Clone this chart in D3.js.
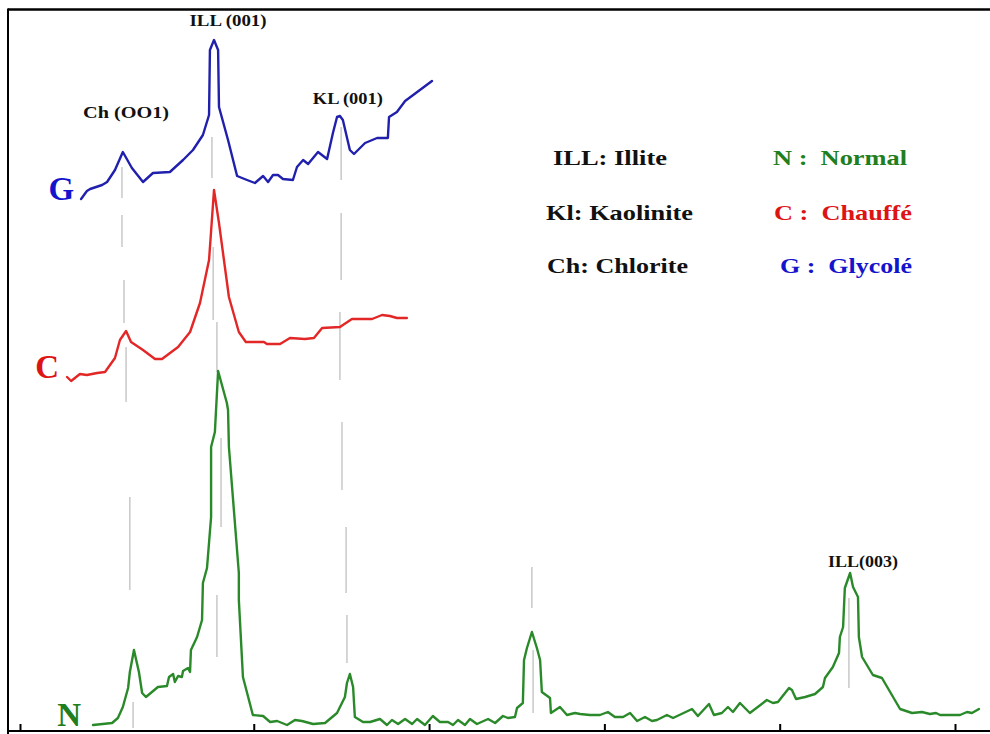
<!DOCTYPE html>
<html>
<head>
<meta charset="utf-8">
<script src="https://cdn.jsdelivr.net/npm/d3@7/dist/d3.min.js"></script>
<style>
  html, body { margin: 0; padding: 0; background: #fff; }
  svg { display: block; }
  text { font-family: "Liberation Serif", "Times New Roman", serif; font-weight: bold; }
</style>
</head>
<body>
<svg id="chart" width="990" height="734"></svg>
<script>
// ---------- DATA (2θ in degrees, intensity in arbitrary stacked units) ----------
const axisTicks = [2, 10, 16, 22, 28, 34];

// N : Normal
const normalTheta = [4.50,5.15,5.35,5.52,5.70,5.76,5.90,6.07,6.18,6.31,6.72,7.03,7.10,7.24,7.30,7.41,7.54,7.58,7.75,7.82,7.85,8.06,8.23,8.26,8.40,8.54,8.54,8.67,8.78,9.08,9.12,9.15,9.49,9.49,9.63,9.97,10.32,10.56,10.80,11.14,11.41,11.65,12.03,12.44,12.85,13.12,13.19,13.29,13.40,13.46,13.74,13.98,14.32,14.56,14.73,14.94,15.18,15.42,15.59,15.86,16.13,16.37,16.65,16.82,16.99,17.23,17.40,17.64,18.02,18.26,18.53,18.70,18.94,19.01,19.21,19.25,19.35,19.52,19.69,19.80,19.86,20.14,20.17,20.48,20.72,20.99,21.17,21.51,21.85,22.12,22.36,22.64,22.88,23.12,23.39,23.63,23.80,24.14,24.35,25.00,25.20,25.58,25.75,26.02,26.23,26.40,26.64,26.98,27.56,27.77,27.94,28.32,28.42,28.56,28.87,29.21,29.48,29.55,29.82,30.03,30.06,30.17,30.23,30.41,30.51,30.68,30.71,30.82,31.19,31.50,32.12,32.53,32.87,33.14,33.35,33.49,34.17,34.41,34.58,34.82];
const normalIntensity = [0,20,70,180,370,530,750,530,320,280,380,390,480,510,430,490,480,540,570,530,750,880,1050,1420,1570,2080,2780,2930,3540,3220,3150,2780,1520,1250,480,100,90,30,40,0,50,40,10,20,120,280,420,510,380,80,30,30,60,0,50,10,60,10,60,0,90,30,30,0,50,0,60,10,60,20,90,70,80,170,220,650,770,930,770,650,330,270,120,180,100,120,110,100,100,130,80,80,120,40,80,40,50,100,70,160,90,210,100,120,180,130,220,120,250,220,230,370,350,260,280,310,380,470,580,720,880,980,1370,1520,1380,1280,880,680,500,470,160,120,130,110,120,100,100,130,120,160];

// C : Chauffé
const heatedTheta = [3.61,3.75,4.05,4.29,4.64,4.91,5.25,5.42,5.63,5.80,6.21,6.62,6.86,7.41,7.82,8.16,8.47,8.64,8.81,8.98,9.15,9.49,9.73,10.11,10.35,10.45,10.90,11.24,11.75,12.06,12.34,12.95,13.36,14.05,14.39,14.66,14.90,15.24];
const heatedIntensity = [3480,3440,3510,3500,3520,3530,3670,3850,3940,3830,3750,3660,3660,3780,3930,4220,4650,5350,5020,4650,4280,3930,3830,3830,3830,3810,3810,3870,3860,3870,3970,3980,4060,4060,4100,4090,4070,4070];

// G : Glycolé
const glycolTheta = [4.09,4.29,4.40,4.81,4.98,5.25,5.52,5.83,6.21,6.55,7.13,7.58,7.92,8.26,8.47,8.50,8.64,8.78,8.81,9.12,9.43,9.77,10.04,10.32,10.49,10.66,10.83,11.00,11.34,11.48,11.69,11.86,12.20,12.51,12.71,12.85,12.95,13.05,13.29,13.43,13.81,14.22,14.59,14.63,14.90,15.18,16.10];
const glycolIntensity = [5260,5340,5360,5400,5430,5550,5730,5570,5430,5520,5530,5650,5750,5900,6100,6750,6850,6750,6180,5850,5490,5450,5420,5490,5430,5500,5500,5460,5450,5580,5650,5610,5730,5660,5920,6080,6090,6050,5750,5710,5820,5870,5870,6080,6130,6240,6440];

const seriesNames  = ["N", "C", "G"];
const seriesLegend = ["Normal", "Chauffé", "Glycolé"];

// reflection marker segments (dashed guide lines)
const markTheta = [5.49,5.49,5.56,5.63,5.76,5.87, 8.57,8.61,8.74,8.88,8.74, 12.99,12.99,12.95,13.02,13.16,13.19, 19.52,19.56, 30.37];
const markFrom  = [5580,5100,4450,3780,2280,230, 5880,4780,4030,2870,1300, 5980,5120,4130,3030,1980,1100, 1580,750, 1270];
const markTo    = [5270,4780,4020,3230,1350,-30, 5470,4050,3530,1980,680, 5450,4450,3450,2350,1320,620, 1170,120, 370];

// peak labels
const peakLabels    = ["Ch (OO1)", "ILL (001)", "KL (001)", "ILL(003)"];
const peakTheta     = [5.63, 9.12, 13.22, 30.85];
const peakIntensity = [6070, 6990, 6210, 1580];

// mineral legend
const mineralLegend = ["ILL: Illite", "Kl: Kaolinite", "Ch: Chlorite"];

// ---------- DRAWING ----------
const svg = d3.select("#chart");
const W = 990, H = 734;

const x = d3.scaleLinear().domain([2, 34]).range([20, 955]);
const y = d3.scaleLinear().domain([0, 7000]).range([725, 25]);

const lineColors = ["#2a8a2a", "#e32626", "#2020ad"];
const textColors = ["#1f7f1f", "#dd1414", "#1414cc"];

// frame
svg.append("line").attr("x1", 8).attr("x2", W).attr("y1", 9.5).attr("y2", 9.5)
  .attr("stroke", "#000").attr("stroke-width", 2.5);
svg.append("line").attr("x1", 8).attr("x2", 8).attr("y1", 8.5).attr("y2", H)
  .attr("stroke", "#000").attr("stroke-width", 2);
svg.append("line").attr("x1", 8).attr("x2", W).attr("y1", 731).attr("y2", 731)
  .attr("stroke", "#000").attr("stroke-width", 2);

// axis ticks
const axis = d3.axisBottom(x).tickValues(axisTicks).tickSize(-7).tickSizeOuter(0).tickFormat("");
const gAxis = svg.append("g").attr("transform", "translate(0,731)").call(axis);
gAxis.select(".domain").remove();
gAxis.selectAll(".tick line").attr("stroke", "#000").attr("stroke-width", 2);

// guide marker lines
svg.append("g").selectAll("line").data(markTheta).join("line")
  .attr("x1", d => x(d)).attr("x2", d => x(d))
  .attr("y1", (d, i) => y(markFrom[i])).attr("y2", (d, i) => y(markTo[i]))
  .attr("stroke", "#b4b4b4").attr("stroke-width", 1.1);

// curves
const series = [
  { t: normalTheta, v: normalIntensity },
  { t: heatedTheta, v: heatedIntensity },
  { t: glycolTheta, v: glycolIntensity }
];
const line = d3.line().x(d => x(d[0])).y(d => y(d[1]));
const labelDx = [12, 8, 7];
series.forEach((s, i) => {
  const pts = s.t.map((t, j) => [t, s.v[j]]);
  svg.append("path").datum(pts).attr("d", line)
    .attr("fill", "none").attr("stroke", lineColors[i])
    .attr("stroke-width", 2.4).attr("stroke-linejoin", "round").attr("stroke-linecap", "round");
  svg.append("text")
    .attr("x", x(s.t[0]) - labelDx[i]).attr("y", y(s.v[0]) + 1)
    .attr("text-anchor", "end").attr("font-size", 33)
    .attr("fill", textColors[i]).text(seriesNames[i]);
});

// peak labels
const peakW = [86, 77, 70, 70];
svg.append("g").selectAll("text").data(peakLabels).join("text")
  .attr("x", (d, i) => x(peakTheta[i]) - peakW[i] / 2)
  .attr("y", (d, i) => y(peakIntensity[i]))
  .attr("font-size", 16).attr("fill", "#111")
  .attr("textLength", (d, i) => peakW[i]).attr("lengthAdjust", "spacingAndGlyphs")
  .text(d => d);

// legend
const legendRowY = [165, 220, 273];
const mineralX = [553, 546, 547], mineralW = [114, 147, 141];
svg.append("g").selectAll("text").data(mineralLegend).join("text")
  .attr("x", (d, i) => mineralX[i]).attr("y", (d, i) => legendRowY[i])
  .attr("font-size", 21).attr("fill", "#111")
  .attr("textLength", (d, i) => mineralW[i]).attr("lengthAdjust", "spacingAndGlyphs")
  .text(d => d);

const seriesOrderLegend = [0, 1, 2];
const sX = [773, 774, 780], sW = [134, 138, 132];
svg.append("g").selectAll("text").data(seriesOrderLegend).join("text")
  .attr("x", (d, i) => sX[i]).attr("y", (d, i) => legendRowY[i])
  .attr("font-size", 21).attr("fill", d => textColors[d])
  .attr("textLength", (d, i) => sW[i]).attr("lengthAdjust", "spacingAndGlyphs")
  .attr("xml:space", "preserve")
  .text(d => seriesNames[d] + " :  " + seriesLegend[d]);
</script>
</body>
</html>
